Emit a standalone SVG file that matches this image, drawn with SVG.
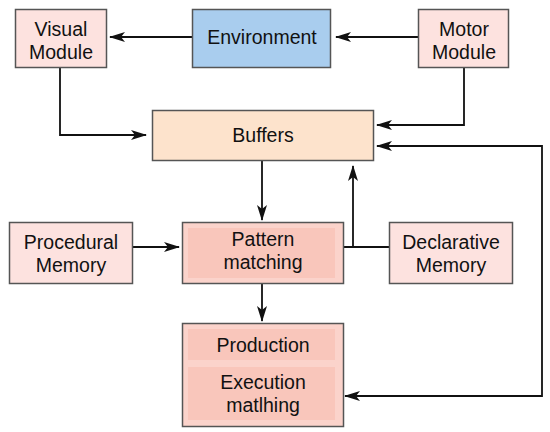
<svg xmlns="http://www.w3.org/2000/svg" width="550" height="432" viewBox="0 0 550 432">
<defs>
<style>
.box{stroke:#555;stroke-width:1.5}
.pink{fill:#fde2df}
.peach{fill:#fde3cc}
.blue{fill:#a9cdee}
.salmon{fill:#fbd3cb}
.inner{fill:#f9c6bb;stroke:none}
text{font-family:"Liberation Sans",Arial,sans-serif;font-size:19.5px;fill:#111;text-anchor:middle}
.conn{fill:none;stroke:#111;stroke-width:1.8}
</style>
<marker id="ah" viewBox="0 0 16 10" refX="15" refY="5" markerWidth="16" markerHeight="10" markerUnits="userSpaceOnUse" orient="auto-start-reverse">
<path d="M0,0 L16,5 L0,10 L4,5 Z" fill="#111"/>
</marker>
</defs>
<rect width="550" height="432" fill="#fff"/>
<g id="connectors">
<line class="conn" x1="192" y1="37" x2="110" y2="37" marker-end="url(#ah)"/>
<line class="conn" x1="418" y1="37" x2="336" y2="37" marker-end="url(#ah)"/>
<polyline class="conn" points="60,67 60,135 146,135" marker-end="url(#ah)"/>
<polyline class="conn" points="464,67 464,125 377,125" marker-end="url(#ah)"/>
<polyline class="conn" points="345,396 542,396 542,146 377,146" marker-start="url(#ah)" marker-end="url(#ah)"/>
<line class="conn" x1="262" y1="160" x2="262" y2="220" marker-end="url(#ah)"/>
<line class="conn" x1="132" y1="247" x2="179" y2="247" marker-end="url(#ah)"/>
<line class="conn" x1="389" y1="247" x2="343" y2="247"/>
<line class="conn" x1="353" y1="247" x2="353" y2="166" marker-end="url(#ah)"/>
<line class="conn" x1="262" y1="283" x2="262" y2="321" marker-end="url(#ah)"/>
</g>
<g id="visual">
<rect class="box pink" x="15.5" y="9.5" width="91" height="58"/>
<text x="61" y="35.5">Visual</text>
<text x="61" y="58.5">Module</text>
</g>
<g id="environment">
<rect class="box blue" x="192.5" y="9.5" width="138" height="58"/>
<text x="262" y="44">Environment</text>
</g>
<g id="motor">
<rect class="box pink" x="418.5" y="9.5" width="90" height="58"/>
<text x="464" y="35.5">Motor</text>
<text x="464" y="58.5">Module</text>
</g>
<g id="buffers">
<rect class="box peach" x="152.5" y="110.5" width="221" height="50"/>
<text x="263" y="142">Buffers</text>
</g>
<g id="procedural">
<rect class="box pink" x="9.5" y="222.5" width="123" height="61"/>
<text x="71" y="249">Procedural</text>
<text x="71" y="272">Memory</text>
</g>
<g id="pattern">
<rect class="box salmon" x="182.5" y="222.5" width="161" height="61"/>
<rect class="inner" x="188" y="228" width="147" height="50"/>
<text x="263" y="246">Pattern</text>
<text x="263" y="269">matching</text>
</g>
<g id="declarative">
<rect class="box pink" x="389.5" y="222.5" width="123" height="61"/>
<text x="451" y="249">Declarative</text>
<text x="451" y="272">Memory</text>
</g>
<g id="production">
<rect class="box salmon" x="182.5" y="323.5" width="161" height="103"/>
<rect class="inner" x="188" y="329" width="147" height="31"/>
<rect class="inner" x="188" y="367" width="147" height="53"/>
<text x="263" y="352">Production</text>
<text x="263" y="389">Execution</text>
<text x="263" y="412">matlhing</text>
</g>
</svg>
